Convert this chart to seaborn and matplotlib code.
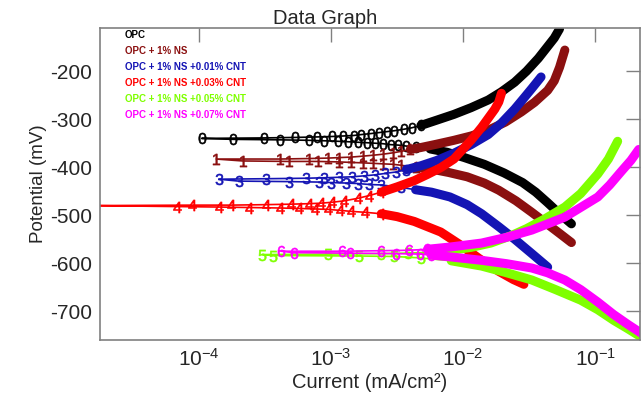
import numpy as np
import pandas as pd
import matplotlib.pyplot as plt
import seaborn as sns
from matplotlib.lines import Line2D

# Tafel curves: (log10 current in mA/cm2, potential in mV)
# cathodic and anodic branches, each listed from Ecorr outwards
opc_cath = [(-3.74, -342), (-3.39, -343), (-3.17, -344), (-3.05, -345), (-2.95, -346), (-2.87, -347),
            (-2.80, -348), (-2.73, -349), (-2.67, -350), (-2.61, -351), (-2.55, -353), (-2.49, -354),
            (-2.43, -356), (-2.36, -358), (-2.25, -362), (-2.12, -369), (-1.99, -380), (-1.84, -394),
            (-1.69, -412), (-1.55, -432), (-1.45, -452), (-1.36, -474), (-1.27, -497), (-1.18, -518)]
opc_anod = [(-3.98, -340), (-3.51, -339), (-3.27, -338), (-3.11, -337), (-2.99, -336), (-2.91, -335),
            (-2.83, -334), (-2.77, -332), (-2.70, -330), (-2.64, -328), (-2.58, -326), (-2.52, -324),
            (-2.45, -321), (-2.39, -318), (-2.32, -313), (-2.20, -302), (-2.07, -290), (-1.94, -276),
            (-1.81, -260), (-1.71, -243), (-1.61, -223), (-1.52, -200), (-1.43, -173), (-1.37, -152),
            (-1.31, -131), (-1.27, -112)]

ns_cath = [(-3.67, -387), (-3.32, -388), (-3.10, -388), (-2.94, -389), (-2.85, -390), (-2.76, -391),
           (-2.68, -392), (-2.61, -393), (-2.53, -394), (-2.47, -396), (-2.36, -400), (-2.24, -404),
           (-2.11, -411), (-1.97, -420), (-1.84, -433), (-1.73, -448), (-1.60, -470), (-1.48, -494),
           (-1.36, -519), (-1.26, -540), (-1.18, -557)]
ns_anod = [(-3.87, -383), (-3.39, -383), (-3.17, -382), (-3.02, -381), (-2.94, -380), (-2.85, -379),
           (-2.76, -377), (-2.68, -375), (-2.61, -373), (-2.53, -370), (-2.47, -367), (-2.40, -363),
           (-2.32, -359), (-2.20, -352), (-2.07, -344), (-1.94, -335), (-1.81, -323), (-1.68, -306),
           (-1.56, -285), (-1.46, -265), (-1.36, -240), (-1.31, -220), (-1.27, -192), (-1.23, -156)]

cnt01_cath = [(-3.70, -429), (-3.32, -430), (-3.09, -431), (-3.00, -432), (-2.89, -433), (-2.80, -434),
              (-2.71, -436), (-2.62, -437), (-2.47, -442), (-2.36, -447), (-2.24, -452), (-2.10, -462),
              (-1.97, -478), (-1.86, -497), (-1.73, -524), (-1.61, -550), (-1.48, -580), (-1.36, -608)]
cnt01_anod = [(-3.85, -425), (-3.49, -424), (-3.19, -423), (-3.05, -422), (-2.94, -421), (-2.84, -420),
              (-2.75, -418), (-2.67, -416), (-2.59, -413), (-2.51, -410), (-2.43, -405), (-2.32, -397),
              (-2.20, -386), (-2.07, -371), (-1.94, -353), (-1.81, -332), (-1.71, -308), (-1.61, -279),
              (-1.54, -256), (-1.48, -236), (-1.41, -212)]

cnt03_cath = [(-4.17, -482), (-3.85, -483), (-3.62, -484), (-3.39, -485), (-3.24, -486), (-3.12, -487),
              (-3.02, -488), (-2.93, -490), (-2.85, -492), (-2.74, -494), (-2.62, -497), (-2.50, -503),
              (-2.37, -513), (-2.17, -535), (-2.02, -562), (-1.88, -590), (-1.73, -617), (-1.62, -634),
              (-1.54, -644)]
cnt03_anod = [(-4.80, -480), (-4.05, -479), (-3.76, -479), (-3.49, -478), (-3.30, -477), (-3.17, -476),
              (-3.08, -475), (-2.99, -473), (-2.90, -470), (-2.80, -465), (-2.71, -459), (-2.62, -452),
              (-2.50, -441), (-2.37, -428), (-2.27, -415), (-2.17, -401), (-2.07, -383), (-1.94, -344),
              (-1.86, -317), (-1.81, -298), (-1.76, -279), (-1.73, -264), (-1.71, -246)]

cnt05_cath = [(-3.44, -584), (-2.79, -585), (-2.52, -586), (-2.32, -589), (-2.09, -595), (-1.86, -606),
              (-1.67, -620), (-1.48, -635), (-1.30, -655), (-1.11, -677), (-0.98, -697), (-0.86, -719),
              (-0.75, -737), (-0.65, -754)]
cnt05_anod = [(-3.52, -582), (-3.02, -581), (-2.62, -580), (-2.42, -579), (-2.25, -577), (-2.09, -573),
              (-1.94, -567), (-1.79, -558), (-1.64, -543), (-1.52, -528), (-1.39, -509), (-1.23, -483),
              (-1.11, -455), (-0.98, -414), (-0.90, -383), (-0.83, -346)]

cnt07_cath = [(-3.28, -578), (-2.86, -579), (-2.51, -580), (-2.33, -581), (-2.24, -583), (-2.09, -587),
              (-1.86, -594), (-1.67, -601), (-1.48, -610), (-1.36, -620), (-1.23, -635), (-1.11, -655),
              (-0.98, -681), (-0.86, -707), (-0.75, -728), (-0.65, -746)]
cnt07_anod = [(-3.38, -575), (-2.92, -575), (-2.62, -574), (-2.41, -573), (-2.27, -571), (-2.09, -566),
              (-1.86, -558), (-1.67, -546), (-1.48, -531), (-1.23, -504), (-0.98, -462), (-0.89, -437),
              (-0.80, -408), (-0.73, -386), (-0.67, -363)]

labels = ['OPC', 'OPC + 1% NS', 'OPC + 1% NS +0.01% CNT', 'OPC + 1% NS +0.03% CNT',
          'OPC + 1% NS +0.05% CNT', 'OPC + 1% NS +0.07% CNT']
colors = ['#000000', '#8b1010', '#1414b4', '#ff0000', '#7fff00', '#ff00ff']
digits = ['0', '1', '3', '4', '5', '6']
# where the markers merge into a solid band (log10 current)
band_from = [-2.35, -2.40, -2.45, -2.65, -2.30, -2.30]

curves = [(opc_cath, opc_anod), (ns_cath, ns_anod), (cnt01_cath, cnt01_anod),
          (cnt03_cath, cnt03_anod), (cnt05_cath, cnt05_anod), (cnt07_cath, cnt07_anod)]

sns.set_style("white")
plt.rcParams['font.family'] = ['Liberation Sans', 'DejaVu Sans']
plt.rcParams['mathtext.default'] = 'regular'
plt.rcParams['axes.unicode_minus'] = False

fig = plt.figure(figsize=(6.43, 3.94), dpi=100)
ax = fig.add_axes([0.1555, 0.137, 0.84, 0.792])
ax.set_xscale('log')


def to_df(pts):
    df = pd.DataFrame(pts, columns=['logi', 'E'])
    df['i'] = 10 ** df['logi']
    return df


for (cath, anod), c, d, b in zip(curves, colors, digits, band_from):
    # thin line through the whole scan
    full = to_df(cath[::-1] + anod)
    sns.lineplot(data=full, x='i', y='E', sort=False, estimator=None, color=c, lw=1.2, ax=ax)
    # digit markers where they are still apart
    sparse = full[full['logi'] < b + 0.08]
    sns.lineplot(data=sparse, x='i', y='E', sort=False, estimator=None, color=c, ls='none',
                 marker=f'${d}$', markersize=8, markeredgewidth=0.4, markeredgecolor=c, ax=ax)
    # merged markers form a thick band
    for branch in (cath, anod):
        band = to_df([p for p in branch if p[0] >= b])
        sns.lineplot(data=band, x='i', y='E', sort=False, estimator=None, color=c, lw=6.5,
                     solid_capstyle='round', solid_joinstyle='round', ax=ax)

ax.set_xlim(10 ** -4.75, 10 ** -0.66)
ax.set_ylim(-760, -110)
ax.set_yticks([-700, -600, -500, -400, -300, -200])
ax.set_xticks([1e-4, 1e-3, 1e-2, 1e-1])
ax.minorticks_off()
ax.tick_params(direction='in', length=10, width=1, color='#808080', top=True, right=True,
               labelsize=15, pad=6)
for s in ax.spines.values():
    s.set_color('#808080')
    s.set_linewidth(1.2)

ax.set_xlabel('Current (mA/cm²)', fontsize=14.5, labelpad=2)
ax.set_ylabel('Potential (mV)', fontsize=13.5, labelpad=2)
fig.text(0.505, 0.953, 'Data Graph', fontsize=14.5, ha='center', va='center')

handles = [Line2D([], [], color=c) for c in colors]
ax.legend(handles, labels, loc='upper left', bbox_to_anchor=(0.042, 1.0), handlelength=0,
          handletextpad=0, frameon=False, labelcolor=colors, prop={'weight': 'bold', 'size': 7},
          labelspacing=0.62, borderaxespad=0, borderpad=0.2)

fig.savefig('out.png', dpi=100)
